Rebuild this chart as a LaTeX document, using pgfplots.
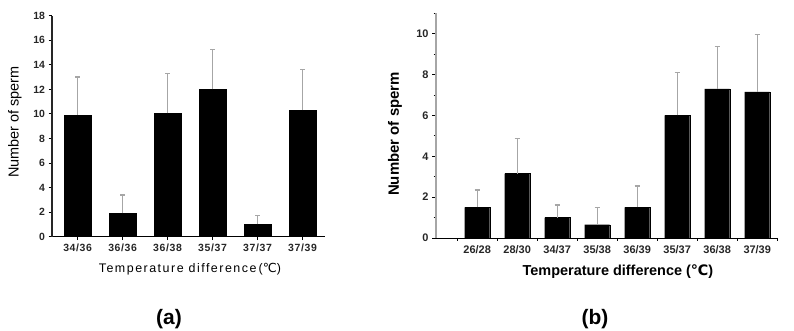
\documentclass[border=0pt]{standalone}
\usepackage{pgfplots}
\pgfplotsset{compat=1.18}
\usepackage{fontspec}
\setmainfont{Liberation Sans}
\newfontfamily\dejavu{DejaVu Sans}
\begin{document}
\begin{tikzpicture}
\path[use as bounding box] (0,0) rectangle (794bp,-331bp);
% ---------------- (a) ----------------
\begin{axis}[
  at={(52bp,-236.7bp)}, anchor=south west,
  scale only axis, width=273bp, height=221bp,
  xmin=-0.57, xmax=5.5, ymin=0, ymax=18,
  axis x line=bottom, axis y line=left,
  axis line style={-},
  x axis line style={draw=black, line width=1pt},
  y axis line style={draw=black!85, line width=1.4pt},
  xtick={0,...,5},
  xticklabels={34/36,36/36,36/38,35/37,37/37,37/39},
  ytick={0,2,...,18},
  tick align=outside,
  major tick length=3.5bp,
  xtick style={draw=black, line width=0.5pt},
  ytick style={draw=black, line width=0.9pt},
  /pgf/number format/assume math mode=true,
  xticklabel style={font=\bfseries\fontsize{10.5}{11}\selectfont\addfontfeature{LetterSpace=6}, text=black!85},
  yticklabel style={font=\bfseries\fontsize{10.5}{11}\selectfont, text=black!85},
  xlabel={\addfontfeature{LetterSpace=12}Temperature difference\,({\dejavu ℃})},
  xlabel style={at={(axis description cs:0.505,-0.146)}, anchor=center, font=\fontsize{12.5}{13}\selectfont},
  ylabel={Number of sperm},
  ylabel style={at={(axis description cs:-0.1355,0.519)}, anchor=center, font=\fontsize{14.5}{15}\selectfont},
]
\addplot[ybar, bar width=27bp, fill=black, draw=black,
  error bars/.cd, y dir=plus, y explicit,
  error bar style={draw=gray!70, line width=1.2pt},
  error mark options={rotate=90, draw=gray!70, line width=1.2pt, mark size=2.5bp}]
  table[x=x, y=y, y error=e] {
x y e
0 9.9 3.1
1 1.9 1.5
2 10.05 3.25
3 12.0 3.25
4 1.0 0.75
5 10.3 3.35
};
\end{axis}
% ---------------- (b) ----------------
\begin{axis}[
  at={(436bp,-238bp)}, anchor=south west,
  scale only axis, width=342bp, height=224.7bp,
  xmin=-1.03, xmax=7.52, ymin=0, ymax=11,
  axis x line=bottom, axis y line=left,
  axis line style={-},
  x axis line style={draw=black, line width=1pt},
  y axis line style={draw=gray!70, line width=2.2pt},
  xtick={0,...,7},
  xticklabels={26/28,28/30,34/37,35/38,36/39,35/37,36/38,37/39},
  minor xtick={-0.5,0.5,...,7.5},
  ytick={0,2,...,10},
  minor ytick={1,3,...,11},
  tick align=outside,
  major tick length=4bp,
  minor tick length=2.5bp,
  xtick style={draw=none},
  minor x tick style={draw=black, line width=0.9pt},
  ytick style={draw=black, line width=0.9pt},
  minor y tick style={draw=black, line width=0.9pt},
  /pgf/number format/assume math mode=true,
  xticklabel style={font=\bfseries\fontsize{11}{12}\selectfont, text=black!85},
  yticklabel style={font=\bfseries\fontsize{11}{12}\selectfont, text=black!85},
  xlabel={Temperature difference ({\dejavu ℃})},
  xlabel style={at={(axis description cs:0.532,-0.151)}, anchor=center, font=\bfseries\fontsize{14.5}{15}\selectfont},
  ylabel={Number of sperm},
  ylabel style={at={(axis description cs:-0.12,0.463)}, anchor=center, font=\bfseries\fontsize{15}{16}\selectfont},
]
\addplot[ybar, bar width=25bp, fill=black, draw=black,
  error bars/.cd, y dir=plus, y explicit,
  error bar style={draw=gray!70, line width=1.2pt},
  error mark options={rotate=90, draw=gray!70, line width=1.2pt, mark size=2.5bp}]
  table[x=x, y=y, y error=e] {
x y e
0 1.5 0.85
1 3.15 1.73
2 1.0 0.62
3 0.65 0.83
4 1.5 1.05
5 6.0 2.1
6 7.3 2.08
7 7.15 2.8
};
\end{axis}
\node[font=\bfseries\fontsize{21}{22}\selectfont] at (169bp,-319bp) {(a)};
\node[font=\bfseries\fontsize{21}{22}\selectfont] at (595bp,-319bp) {(b)};
\end{tikzpicture}
\end{document}
